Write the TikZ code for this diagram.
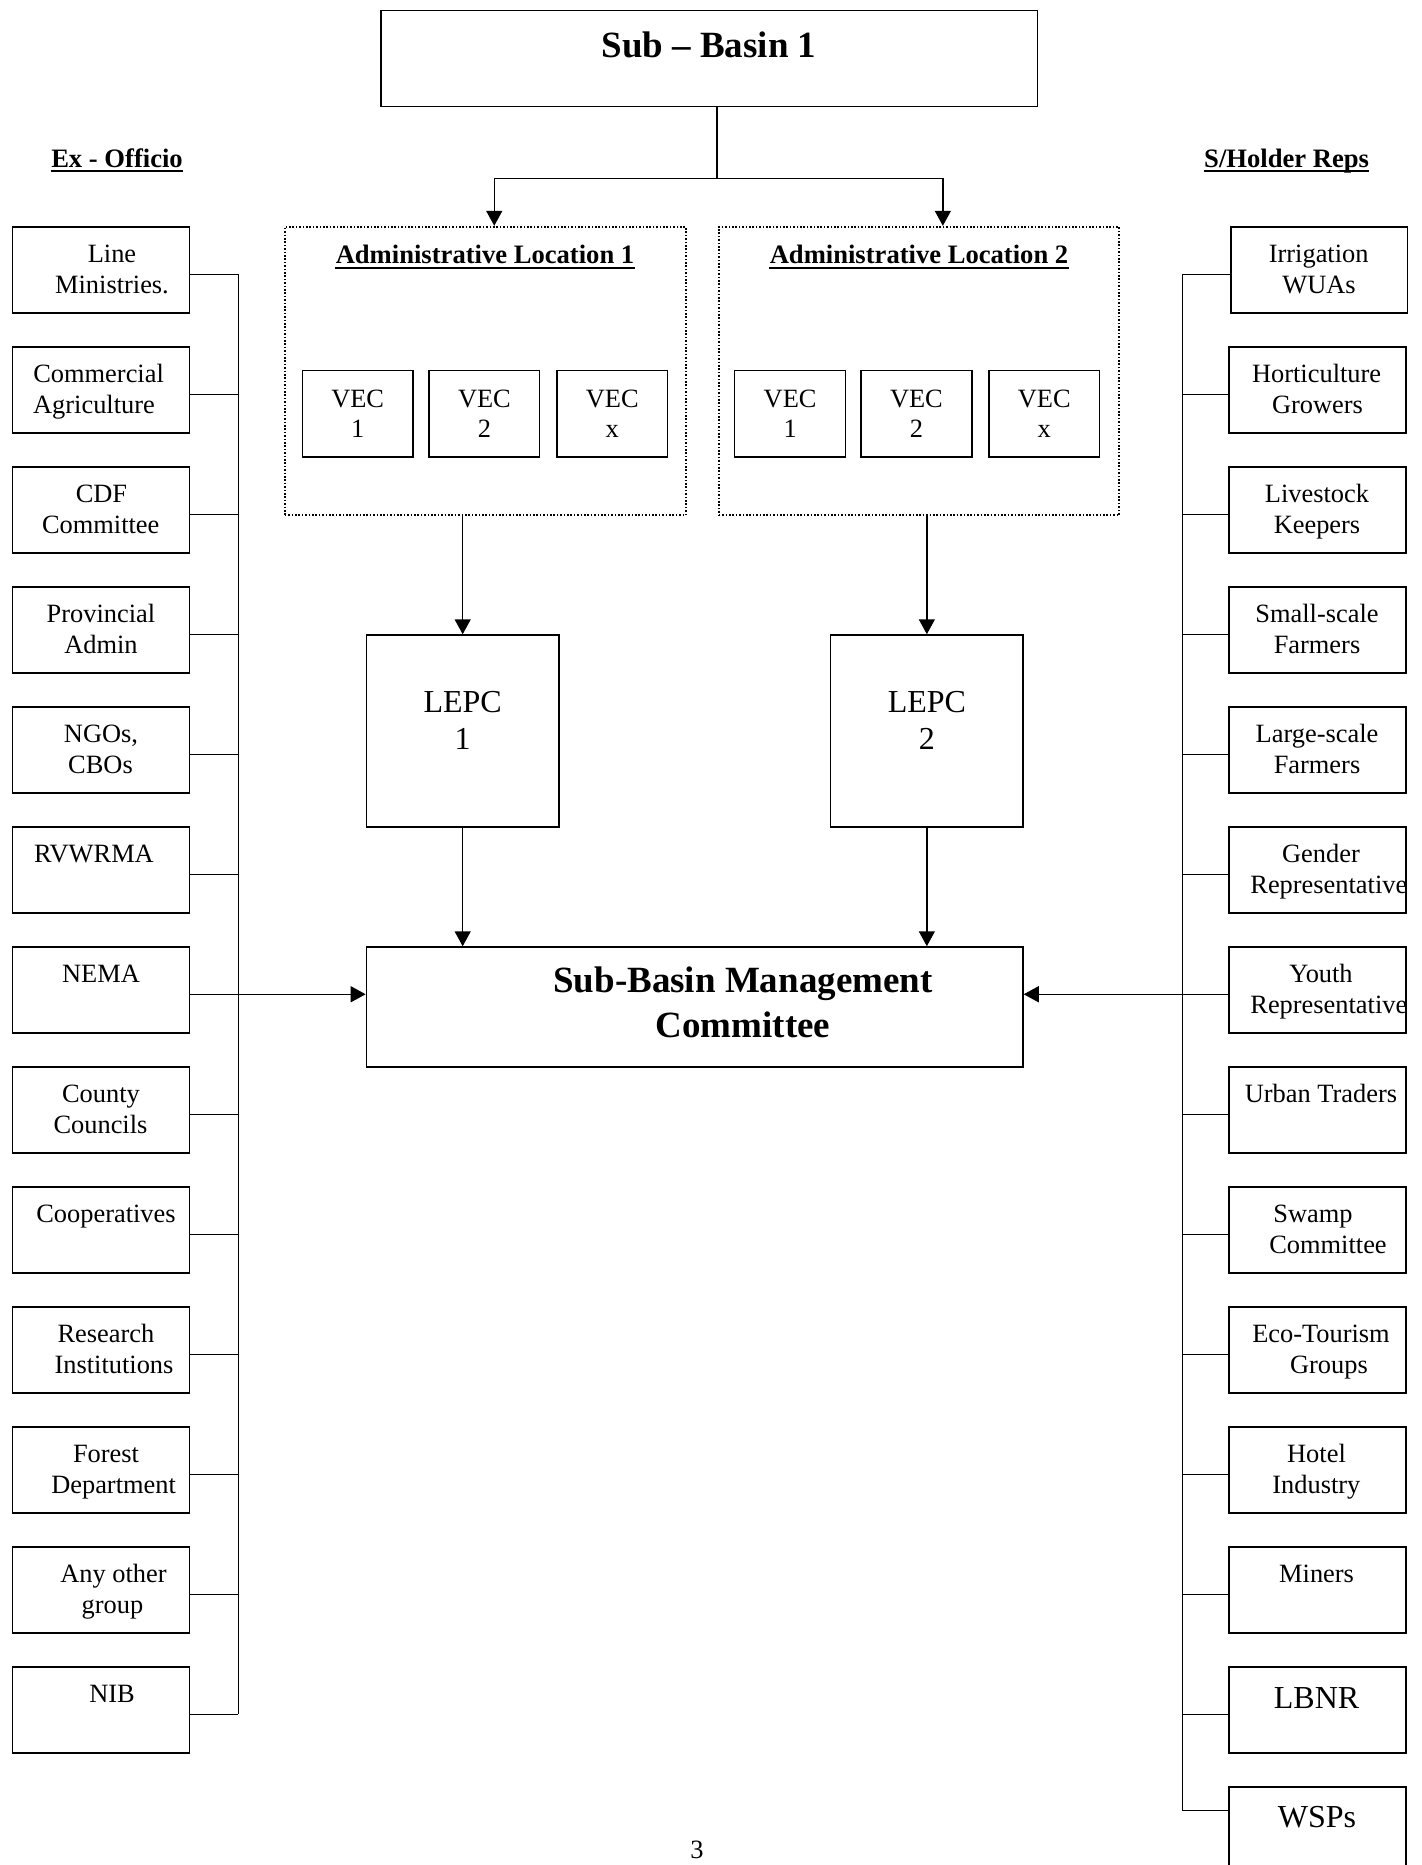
\documentclass[tikz,border=0pt]{standalone}
\usepackage{fontspec}
\setmainfont{Liberation Serif}
\usetikzlibrary{arrows.meta,fit,calc}
\begin{document}
\begin{tikzpicture}[x=0.5pt,y=-0.5pt,
 bx/.style={draw, line width=0.75pt, inner sep=0pt},
 dbox/.style={draw, line width=1pt, dash pattern=on 0.8pt off 0.9pt, inner sep=0pt},
 tx/.style={inner sep=0pt, anchor=base, font=\fontsize{13.2}{15}\selectfont},
 txw/.style={inner sep=0pt, anchor=base west, font=\fontsize{13.2}{15}\selectfont},
 bg/.style={inner sep=0pt, anchor=base, font=\fontsize{16}{19}\selectfont},
 hd/.style={inner sep=0pt, anchor=base, font=\fontsize{13.3}{16}\selectfont\bfseries},
 ttl/.style={inner sep=0pt, anchor=base, font=\fontsize{18.5}{22}\selectfont\bfseries},
 ln/.style={line width=0.75pt},
 arr/.style={line width=0.75pt, -{Triangle[length=7.5pt,width=8pt]}},
 ul/.style={line width=1pt}]
\useasboundingbox (0,0) rectangle (1422,1865);
\clip (0,0) rectangle (1422,1865);

% top
\node[bx, fit={(381,10.7)(1037.5,106.4)}] (top) {};
\node[ttl] (ttltxt) at (709,57) {Sub – Basin 1};

% headings
\node[hd] (exo) at (117,167) {Ex - Officio};
\draw[ul] ($(exo.base west)+(0,4)$) -- ($(exo.base east)+(0,4)$);
\node[hd] (shr) at (1286.6,167) {S/Holder Reps};
\draw[ul] ($(shr.base west)+(0,4)$) -- ($(shr.base east)+(0,4)$);

% admin locations
\node[dbox, fit={(284.8,226.8)(685.7,515.4)}] (adm1) {};
\node[dbox, fit={(718.7,226.8)(1119,515.4)}] (adm2) {};
\node[hd] (adm1t) at (485,263.6) {Administrative Location 1};
\draw[ul] ($(adm1t.base west)+(0,4)$) -- ($(adm1t.base east)+(0,4)$);
\node[hd] (adm2t) at (919,263.6) {Administrative Location 2};
\draw[ul] ($(adm2t.base west)+(0,4)$) -- ($(adm2t.base east)+(0,4)$);

% VEC boxes
\node[bx, fit={(302.5,370.7)(413,456.8)}] (v11) {};
\node[bx, fit={(429,370.7)(539.7,456.8)}] (v12) {};
\node[bx, fit={(557,370.7)(667.6,456.8)}] (v13) {};
\node[bx, fit={(734.6,370.7)(845.7,456.8)}] (v21) {};
\node[bx, fit={(861,370.7)(971.8,456.8)}] (v22) {};
\node[bx, fit={(989,370.7)(1099.7,456.8)}] (v23) {};
\node[tx] (v11a) at (357.7,407) {VEC}; \node[tx] (v11b) at (357.7,437.5) {1};
\node[tx] (v12a) at (484.4,407) {VEC}; \node[tx] (v12b) at (484.4,437.5) {2};
\node[tx] (v13a) at (612.3,407) {VEC}; \node[tx] (v13b) at (612.3,437.5) {x};
\node[tx] (v21a) at (790.1,407) {VEC}; \node[tx] (v21b) at (790.1,437.5) {1};
\node[tx] (v22a) at (916.4,407) {VEC}; \node[tx] (v22b) at (916.4,437.5) {2};
\node[tx] (v23a) at (1044.3,407) {VEC}; \node[tx] (v23b) at (1044.3,437.5) {x};

% LEPC
\node[bx, fit={(366.4,635)(559,827)}] (lepc1) {};
\node[bx, fit={(830.7,635)(1023,827)}] (lepc2) {};
\node[bg] (lepc1a) at (462.7,712) {LEPC}; \node[bg] (lepc1b) at (462.7,749) {1};
\node[bg] (lepc2a) at (926.9,712) {LEPC}; \node[bg] (lepc2b) at (926.9,749) {2};

% SBMC
\node[bx, fit={(366.4,947)(1023,1067)}] (sbmc) {};
\node[ttl] (sbmca) at (743,992) {Sub-Basin Management};
\node[ttl] (sbmcb) at (743,1037) {Committee};

% top connectors
\coordinate (split) at (717,178.6);
\draw[ln] (top.south -| split) -- (split);
\draw[arr] (split) -| ($(adm1.north)+(9,0)$);
\draw[arr] (split) -| ($(adm2.north)+(24,0)$);
\draw[arr] (adm1.south -| lepc1.north) -- (lepc1.north);
\draw[arr] (adm2.south -| lepc2.north) -- (lepc2.north);
\draw[arr] (lepc1.south) -- (lepc1.south |- sbmc.north);
\draw[arr] (lepc2.south) -- (lepc2.south |- sbmc.north);

% left boxes
\foreach \i in {1,...,13} {
  \pgfmathsetmacro\tp{227+120*(\i-1)}
  \node[bx, fit={(12.7,\tp)(189.6,\tp+86)}] (L\i) {};
  \draw[ln] ($(L\i.north east)+(0,48)$) -- ++(48,0);
}
\draw[ln] ($(L1.north east)+(48,48)$) -- ($(L13.north east)+(48,48)$);

% right boxes
\node[bx, fit={(1231,227)(1407.6,313)}] (R1) {};
\draw[ln] ($(R1.north west)+(0,48)$) -- ++(-48,0);
\foreach \i in {2,...,14} {
  \pgfmathsetmacro\tp{227+120*(\i-1)}
  \node[bx, fit={(1229,\tp)(1406,\tp+86)}] (R\i) {};
}
\foreach \i in {2,...,13} {
  \draw[ln] ($(R\i.north west)+(0,48)$) -- ++(-46,0);
}
\draw[ln] ($(R14.north west)+(0,24)$) -- ++(-46,0);
\draw[ln] ($(R1.north west)+(-48,48)$) -- ($(R14.north west)+(-46,24)$);

% side arrows
\draw[arr] ($(L7.north east)+(0,48)$) -- ($(sbmc.north west)+(0,48)$);
\draw[arr] ($(R7.north west)+(0,48)$) -- ($(sbmc.north east)+(0,48)$);

% left texts
\node[tx] (L1a) at (112,262.5) {Line}; \node[tx] (L1b) at (112,293.5) {Ministries.};
\node[tx] (L2a) at (98.6,382.5) {Commercial}; \node[tx] (L2b) at (94,413.5) {Agriculture};
\node[tx] (L3a) at (101.5,502.5) {CDF}; \node[tx] (L3b) at (100.7,533.5) {Committee};
\node[tx] (L4a) at (101,622.5) {Provincial}; \node[tx] (L4b) at (101,653.5) {Admin};
\node[tx] (L5a) at (101,742.5) {NGOs,}; \node[tx] (L5b) at (100.5,773.5) {CBOs};
\node[tx] (L6a) at (94,862.5) {RVWRMA};
\node[tx] (L7a) at (101,982.5) {NEMA};
\node[tx] (L8a) at (101,1102.5) {County}; \node[tx] (L8b) at (100.5,1133.5) {Councils};
\node[tx] (L9a) at (106,1222.5) {Cooperatives};
\node[tx] (L10a) at (106,1342.5) {Research}; \node[tx] (L10b) at (114,1373.5) {Institutions};
\node[tx] (L11a) at (106,1462.5) {Forest}; \node[tx] (L11b) at (113.6,1493.5) {Department};
\node[tx] (L12a) at (113.5,1582.5) {Any other}; \node[tx] (L12b) at (112.5,1613.5) {group};
\node[tx] (L13a) at (112,1702.5) {NIB};

% right texts
\node[tx] (R1a) at (1318.7,262.5) {Irrigation}; \node[tx] (R1b) at (1319,293.5) {WUAs};
\node[tx] (R2a) at (1316.6,382.5) {Horticulture}; \node[tx] (R2b) at (1317.5,413.5) {Growers};
\node[tx] (R3a) at (1317,502.5) {Livestock}; \node[tx] (R3b) at (1317,533.5) {Keepers};
\node[tx] (R4a) at (1317,622.5) {Small-scale}; \node[tx] (R4b) at (1317,653.5) {Farmers};
\node[tx] (R5a) at (1317,742.5) {Large-scale}; \node[tx] (R5b) at (1317,773.5) {Farmers};
\node[tx] (R6a) at (1321,862.5) {Gender};
\begin{scope}
  \clip (R6.south west) rectangle (R6.north east);
  \node[txw] (R6b) at (1250,893.5) {Representative};
\end{scope}
\node[tx] (R7a) at (1321,982.5) {Youth};
\begin{scope}
  \clip (R7.south west) rectangle (R7.north east);
  \node[txw] (R7b) at (1250,1013.5) {Representative};
\end{scope}
\node[tx] (R8a) at (1321,1102.5) {Urban Traders};
\node[tx] (R9a) at (1313,1222.5) {Swamp}; \node[tx] (R9b) at (1328,1253.5) {Committee};
\node[tx] (R10a) at (1321,1342.5) {Eco-Tourism}; \node[tx] (R10b) at (1329,1373.5) {Groups};
\node[tx] (R11a) at (1316.5,1462.5) {Hotel}; \node[tx] (R11b) at (1316.4,1493.5) {Industry};
\node[tx] (R12a) at (1316.6,1582.5) {Miners};
\node[bg] (R13a) at (1316.6,1708) {LBNR};
\node[bg] (R14a) at (1317,1827) {WSPs};

% page number
\node[tx] (pg) at (697,1858) {3};
\end{tikzpicture}
\end{document}
